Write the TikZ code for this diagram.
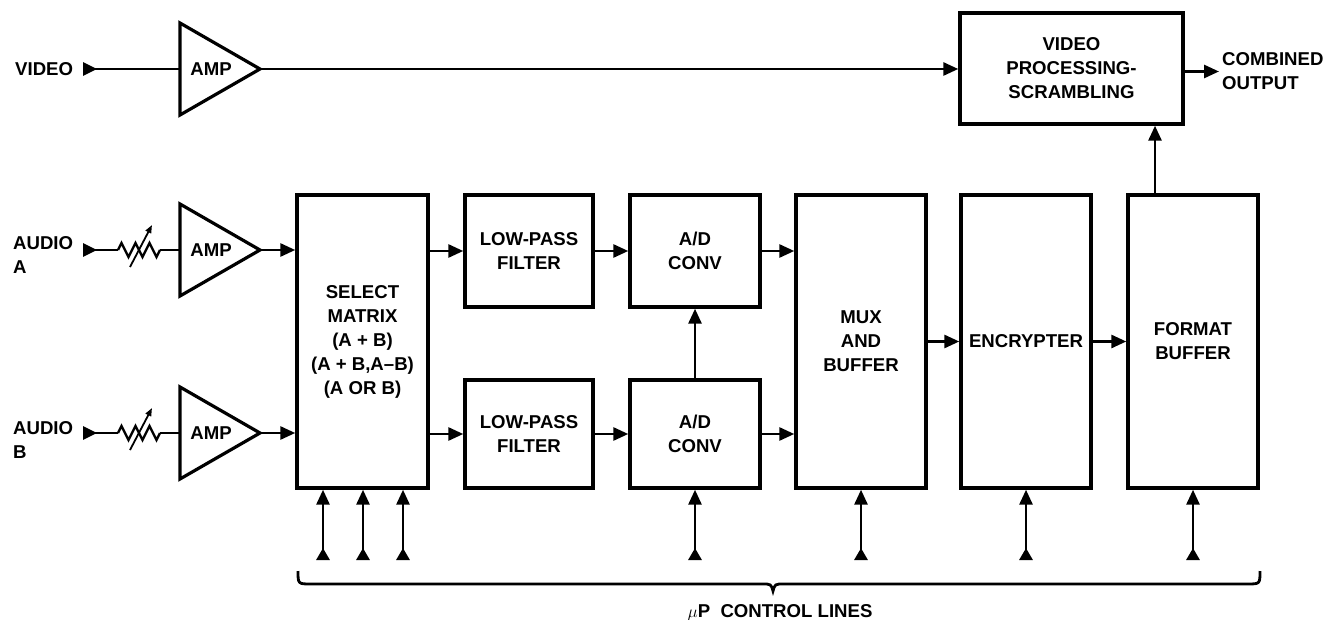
\documentclass[tikz,border=0pt]{standalone}
\usepackage{fontspec}
\setmainfont{Liberation Sans}
\usetikzlibrary{arrows.meta}
\begin{document}
\begin{tikzpicture}[x=1pt,y=-1pt,
  txt/.style={font=\bfseries\fontsize{18.6}{24}\selectfont, align=center, inner sep=0pt},
  blk/.style={draw, line width=3.4pt, txt},
  wire/.style={line width=2.8pt},
  arr/.style={wire, -{Triangle[length=15pt,width=13pt]}},
  ctl/.style={wire, {Triangle[reversed,length=12pt,width=13pt]}-{Triangle[length=15pt,width=13pt]}},
  inp/.style={wire, {Triangle[reversed,length=14pt,width=13pt]}-},
  ampl/.style={line width=3.2pt, line join=miter},
  varr/.style={line width=1.8pt, -{Triangle[length=8pt,width=6pt]}},
  brc/.style={line width=2.8pt}
]
\useasboundingbox (0,0) rectangle (1329,620);

% ---------- blocks ----------
\node[blk, minimum width=223pt, minimum height=111pt] (vid) at (1071.5,68.5) {VIDEO\\PROCESSING-\\SCRAMBLING};
\node[blk, minimum width=131pt, minimum height=293pt] (sel) at (362.5,341.5) {SELECT\\MATRIX\\(A + B)\\(A + B,A–B)\\(A OR B)};
\node[blk, minimum width=128pt, minimum height=112pt] (lpfA) at (529,251) {LOW-PASS\\FILTER};
\node[blk, minimum width=128pt, minimum height=108pt] (lpfB) at (529,434) {LOW-PASS\\FILTER};
\node[blk, minimum width=130pt, minimum height=112pt] (adA) at (695,251) {A/D\\CONV};
\node[blk, minimum width=130pt, minimum height=108pt] (adB) at (695,434) {A/D\\CONV};
\node[blk, minimum width=130pt, minimum height=293pt] (mux) at (861,341.5) {MUX\\AND\\BUFFER};
\node[blk, minimum width=130pt, minimum height=293pt] (enc) at (1026,341.5) {ENCRYPTER};
\node[blk, minimum width=130pt, minimum height=293pt] (fmt) at (1193,341.5) {FORMAT\\BUFFER};

% ---------- labels ----------
\node[txt, anchor=west] (lvid) at (15,69) {VIDEO};
\node[txt, anchor=west, align=left] (lauA) at (13,255) {AUDIO\\A};
\node[txt, anchor=west, align=left] (lauB) at (13,440) {AUDIO\\B};
\node[txt, anchor=west, align=left] (co) at (1222,71.5) {COMBINED\\OUTPUT};
\node[txt] (mup) at (780,613) {$\mu$P\ \ CONTROL LINES};

% ---------- amplifiers ----------
\draw[ampl] (180,23) -- (260,69) coordinate (aVout) -- (180,115) -- cycle;
\coordinate (aVin) at (180,69);
\node[txt] (aV) at (211,69) {AMP};

\draw[ampl] (180,204) -- (260,250) coordinate (aAout) -- (180,296) -- cycle;
\coordinate (aAin) at (180,250);
\node[txt] (aA) at (211,250) {AMP};

\draw[ampl] (180,387) -- (260,433) coordinate (aBout) -- (180,479) -- cycle;
\coordinate (aBin) at (180,433);
\node[txt] (aB) at (211,433) {AMP};

% ---------- video path ----------
\coordinate (vin) at (83,69);
\draw[inp] (vin) -- (aVin);
\draw[arr] (aVout) -- (vid.west |- aVout);
\draw[arr, shorten >=3pt] (vid.east |- co.west) -- (co.west);
\coordinate (vx) at (1155,0);
\draw[arr] (fmt.north -| vx) -- (vid.south -| vx);

% ---------- audio A ----------
\coordinate (inA) at (83,250);
\coordinate (rA1) at (118,250);
\draw[inp] (inA) -- (rA1);
\draw[wire, line width=2.4pt, line join=miter] (rA1) -- ++(3.5,-7) -- ++(7,14) -- ++(7,-14) -- ++(7,14) -- ++(7,-14) -- ++(7,14) -- ++(3.5,-7) coordinate (rA2);
\draw[wire] (rA2) -- (aAin);
\draw[varr] (130,267) -- (152,225);
\draw[arr] (aAout) -- (sel.west |- aAout);

% ---------- audio B ----------
\coordinate (inB) at (83,433);
\coordinate (rB1) at (118,433);
\draw[inp] (inB) -- (rB1);
\draw[wire, line width=2.4pt, line join=miter] (rB1) -- ++(3.5,-7) -- ++(7,14) -- ++(7,-14) -- ++(7,14) -- ++(7,-14) -- ++(7,14) -- ++(3.5,-7) coordinate (rB2);
\draw[wire] (rB2) -- (aBin);
\draw[varr] (130,450) -- (152,408);
\draw[arr] (aBout) -- (sel.west |- aBout);

% ---------- signal chain ----------
\draw[arr] (sel.east |- lpfA.west) -- (lpfA.west);
\draw[arr] (sel.east |- lpfB.west) -- (lpfB.west);
\draw[arr] (lpfA.east) -- (adA.west);
\draw[arr] (lpfB.east) -- (adB.west);
\draw[arr] (adB.north) -- (adA.south);
\draw[arr] (adA.east) -- (mux.west |- adA.east);
\draw[arr] (adB.east) -- (mux.west |- adB.east);
\draw[arr] (mux.east) -- (enc.west);
\draw[arr] (enc.east) -- (fmt.west);

% ---------- control lines ----------
\coordinate (c1) at (323,560);
\coordinate (c2) at (363,560);
\coordinate (c3) at (403,560);
\coordinate (c4) at (695,560);
\coordinate (c5) at (861,560);
\coordinate (c6) at (1026,560);
\coordinate (c7) at (1193,560);
\draw[ctl] (c1) -- (c1 |- sel.south);
\draw[ctl] (c2) -- (c2 |- sel.south);
\draw[ctl] (c3) -- (c3 |- sel.south);
\draw[ctl] (c4) -- (c4 |- adB.south);
\draw[ctl] (c5) -- (c5 |- mux.south);
\draw[ctl] (c6) -- (c6 |- enc.south);
\draw[ctl] (c7) -- (c7 |- fmt.south);

% ---------- brace ----------
\draw[brc] (298,571) .. controls (298,584) .. (311,584) -- (762,584)
  .. controls (771,584) .. (773,591) .. controls (775,584) .. (784,584)
  -- (1247,584) .. controls (1260,584) .. (1260,571);
\end{tikzpicture}
\end{document}
